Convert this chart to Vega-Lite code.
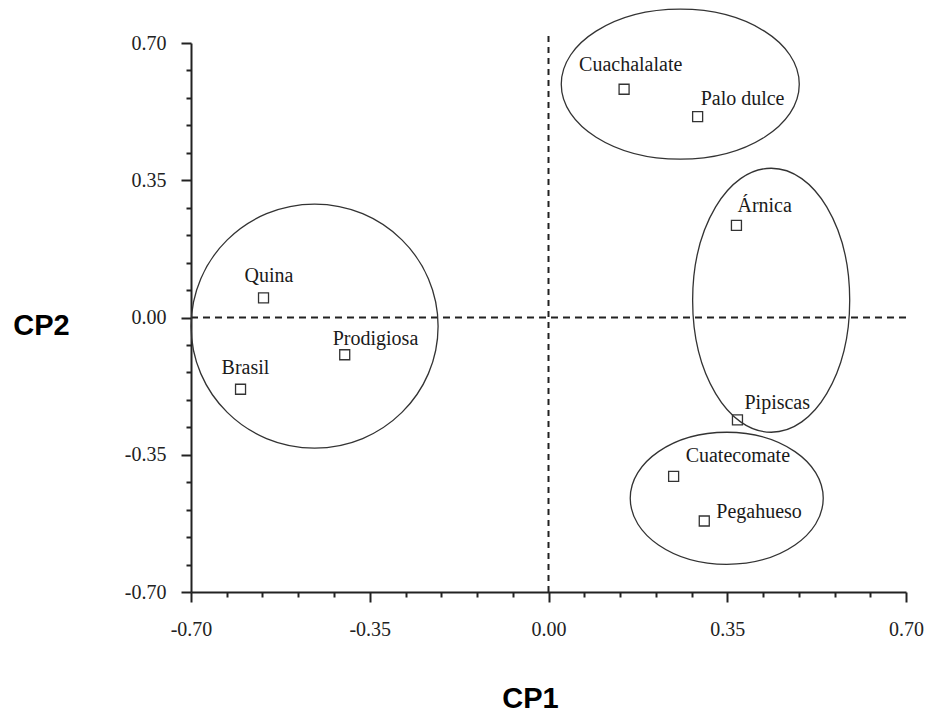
{
  "$schema": "https://vega.github.io/schema/vega-lite/v6.json",
  "width": 715,
  "height": 549,
  "autosize": {"type": "none"},
  "padding": {"left": 191, "top": 43, "right": 23, "bottom": 121},
  "background": "#ffffff",
  "config": {
    "view": {"stroke": null},
    "axis": {"labelOverlap": false, "labelFlush": false, "labelBound": false}
  },
  "datasets": {
    "species": [
      {"name": "Cuachalalate", "cp1": 0.148, "cp2": 0.582},
      {"name": "Palo dulce", "cp1": 0.292, "cp2": 0.512},
      {"name": "Árnica", "cp1": 0.368, "cp2": 0.235},
      {"name": "Pipiscas", "cp1": 0.370, "cp2": -0.261},
      {"name": "Cuatecomate", "cp1": 0.245, "cp2": -0.405},
      {"name": "Pegahueso", "cp1": 0.305, "cp2": -0.519},
      {"name": "Quina", "cp1": -0.558, "cp2": 0.050},
      {"name": "Prodigiosa", "cp1": -0.399, "cp2": -0.095},
      {"name": "Brasil", "cp1": -0.603, "cp2": -0.183}
    ],
    "groups": [
      {"group": "izquierda", "cp1": -0.458, "cp2": -0.022},
      {"group": "superior", "cp1": 0.258, "cp2": 0.595},
      {"group": "derecha", "cp1": 0.436, "cp2": 0.044},
      {"group": "inferior", "cp1": 0.349, "cp2": -0.461}
    ],
    "origin": [{"cp1": 0, "cp2": 0}]
  },
  "layer": [
    {
      "data": {"name": "origin"},
      "mark": {"type": "rule", "strokeDash": [7, 5], "strokeWidth": 2, "color": "#222222"},
      "encoding": {
        "x": {"datum": -0.7, "type": "quantitative"},
        "x2": {"datum": 0.7},
        "y": {"field": "cp2", "type": "quantitative"}
      }
    },
    {
      "data": {"name": "origin"},
      "mark": {"type": "rule", "strokeDash": [6, 5], "strokeWidth": 2, "color": "#222222"},
      "encoding": {
        "x": {"field": "cp1", "type": "quantitative"},
        "y": {"datum": -0.7, "type": "quantitative"},
        "y2": {"datum": 0.73}
      }
    },
    {
      "data": {"name": "species"},
      "mark": {"type": "point", "shape": "square", "size": 100, "filled": true, "fill": "#ffffff", "stroke": "#333333", "strokeWidth": 1.3, "opacity": 1},
      "encoding": {
        "x": {
          "field": "cp1",
          "type": "quantitative",
          "scale": {"domain": [-0.7, 0.7], "nice": false, "zero": false},
          "axis": {
            "values": [-0.7, -0.63, -0.56, -0.49, -0.42, -0.35, -0.28, -0.21, -0.14, -0.07, 0, 0.07, 0.14, 0.21, 0.28, 0.35, 0.42, 0.49, 0.56, 0.63, 0.7],
            "tickCount": 30,
            "labelExpr": "(abs(datum.value) < 0.01 || abs(abs(datum.value) - 0.35) < 0.01 || abs(abs(datum.value) - 0.7) < 0.01) ? (datum.value < -0.001 ? '-' : '') + format(abs(datum.value), '.2f') : ''",
            "tickSize": {"condition": {"test": "abs(datum.value) < 0.01 || abs(abs(datum.value) - 0.35) < 0.01 || abs(abs(datum.value) - 0.7) < 0.01", "value": 10}, "value": 5},
            "grid": false,
            "domainColor": "#222222",
            "domainWidth": 2,
            "tickColor": "#222222",
            "tickWidth": 2,
            "labelFont": "Liberation Serif",
            "labelFontSize": 20,
            "labelColor": "#222222",
            "labelPadding": 17,
            "labelFlush": false,
            "labelOverlap": false,
            "labelBound": false,
            "title": "CP1",
            "titleFont": "Liberation Sans",
            "titleFontSize": 29,
            "titleFontWeight": "bold",
            "titleColor": "#000000",
            "titleX": 339,
            "titleY": 106,
            "titleAlign": "center",
            "titleBaseline": "middle"
          }
        },
        "y": {
          "field": "cp2",
          "type": "quantitative",
          "scale": {"domain": [-0.7, 0.7], "nice": false, "zero": false},
          "axis": {
            "values": [-0.7, -0.63, -0.56, -0.49, -0.42, -0.35, -0.28, -0.21, -0.14, -0.07, 0, 0.07, 0.14, 0.21, 0.28, 0.35, 0.42, 0.49, 0.56, 0.63, 0.7],
            "tickCount": 30,
            "labelExpr": "(abs(datum.value) < 0.01 || abs(abs(datum.value) - 0.35) < 0.01 || abs(abs(datum.value) - 0.7) < 0.01) ? (datum.value < -0.001 ? '-' : '') + format(abs(datum.value), '.2f') : ''",
            "tickSize": {"condition": {"test": "abs(datum.value) < 0.01 || abs(abs(datum.value) - 0.35) < 0.01 || abs(abs(datum.value) - 0.7) < 0.01", "value": 10}, "value": 5},
            "grid": false,
            "domainColor": "#222222",
            "domainWidth": 2,
            "tickColor": "#222222",
            "tickWidth": 2,
            "labelFont": "Liberation Serif",
            "labelFontSize": 20,
            "labelColor": "#222222",
            "labelPadding": 15,
            "labelFlush": false,
            "labelOverlap": false,
            "labelBound": false,
            "title": "CP2",
            "titleAngle": 0,
            "titleFont": "Liberation Sans",
            "titleFontSize": 29,
            "titleFontWeight": "bold",
            "titleColor": "#000000",
            "titleX": -150,
            "titleY": 282,
            "titleAlign": "center",
            "titleBaseline": "middle"
          }
        }
      }
    },
    {
      "data": {"name": "species"},
      "transform": [{"filter": "datum.name === 'Cuachalalate'"}],
      "mark": {"type": "text", "align": "left", "baseline": "alphabetic", "dx": -45, "dy": -18, "font": "Liberation Serif", "fontSize": 20, "color": "#1a1a1a"},
      "encoding": {"x": {"field": "cp1", "type": "quantitative"}, "y": {"field": "cp2", "type": "quantitative"}, "text": {"field": "name"}}
    },
    {
      "data": {"name": "species"},
      "transform": [{"filter": "datum.name === 'Palo dulce'"}],
      "mark": {"type": "text", "align": "left", "baseline": "alphabetic", "dx": 3, "dy": -12, "font": "Liberation Serif", "fontSize": 20, "color": "#1a1a1a"},
      "encoding": {"x": {"field": "cp1", "type": "quantitative"}, "y": {"field": "cp2", "type": "quantitative"}, "text": {"field": "name"}}
    },
    {
      "data": {"name": "species"},
      "transform": [{"filter": "datum.name === 'Árnica'"}],
      "mark": {"type": "text", "align": "left", "baseline": "alphabetic", "dx": 1, "dy": -13, "font": "Liberation Serif", "fontSize": 20, "color": "#1a1a1a"},
      "encoding": {"x": {"field": "cp1", "type": "quantitative"}, "y": {"field": "cp2", "type": "quantitative"}, "text": {"field": "name"}}
    },
    {
      "data": {"name": "species"},
      "transform": [{"filter": "datum.name === 'Pipiscas'"}],
      "mark": {"type": "text", "align": "left", "baseline": "alphabetic", "dx": 7, "dy": -11, "font": "Liberation Serif", "fontSize": 20, "color": "#1a1a1a"},
      "encoding": {"x": {"field": "cp1", "type": "quantitative"}, "y": {"field": "cp2", "type": "quantitative"}, "text": {"field": "name"}}
    },
    {
      "data": {"name": "species"},
      "transform": [{"filter": "datum.name === 'Cuatecomate'"}],
      "mark": {"type": "text", "align": "left", "baseline": "alphabetic", "dx": 12, "dy": -14, "font": "Liberation Serif", "fontSize": 20, "color": "#1a1a1a"},
      "encoding": {"x": {"field": "cp1", "type": "quantitative"}, "y": {"field": "cp2", "type": "quantitative"}, "text": {"field": "name"}}
    },
    {
      "data": {"name": "species"},
      "transform": [{"filter": "datum.name === 'Pegahueso'"}],
      "mark": {"type": "text", "align": "left", "baseline": "alphabetic", "dx": 12, "dy": -3, "font": "Liberation Serif", "fontSize": 20, "color": "#1a1a1a"},
      "encoding": {"x": {"field": "cp1", "type": "quantitative"}, "y": {"field": "cp2", "type": "quantitative"}, "text": {"field": "name"}}
    },
    {
      "data": {"name": "species"},
      "transform": [{"filter": "datum.name === 'Quina'"}],
      "mark": {"type": "text", "align": "left", "baseline": "alphabetic", "dx": -19, "dy": -16, "font": "Liberation Serif", "fontSize": 20, "color": "#1a1a1a"},
      "encoding": {"x": {"field": "cp1", "type": "quantitative"}, "y": {"field": "cp2", "type": "quantitative"}, "text": {"field": "name"}}
    },
    {
      "data": {"name": "species"},
      "transform": [{"filter": "datum.name === 'Prodigiosa'"}],
      "mark": {"type": "text", "align": "left", "baseline": "alphabetic", "dx": -12, "dy": -10, "font": "Liberation Serif", "fontSize": 20, "color": "#1a1a1a"},
      "encoding": {"x": {"field": "cp1", "type": "quantitative"}, "y": {"field": "cp2", "type": "quantitative"}, "text": {"field": "name"}}
    },
    {
      "data": {"name": "species"},
      "transform": [{"filter": "datum.name === 'Brasil'"}],
      "mark": {"type": "text", "align": "left", "baseline": "alphabetic", "dx": -19, "dy": -15, "font": "Liberation Serif", "fontSize": 20, "color": "#1a1a1a"},
      "encoding": {"x": {"field": "cp1", "type": "quantitative"}, "y": {"field": "cp2", "type": "quantitative"}, "text": {"field": "name"}}
    },
    {
      "data": {"name": "groups"},
      "transform": [{"filter": "datum.group === 'izquierda'"}],
      "mark": {"type": "point", "shape": "M -1 0 A 1 0.988 0 1 0 1 0 A 1 0.988 0 1 0 -1 0 Z", "size": 61009, "filled": false, "stroke": "#333333", "strokeWidth": 1.3, "opacity": 1},
      "encoding": {"x": {"field": "cp1", "type": "quantitative"}, "y": {"field": "cp2", "type": "quantitative"}}
    },
    {
      "data": {"name": "groups"},
      "transform": [{"filter": "datum.group === 'superior'"}],
      "mark": {"type": "point", "shape": "M -1 0 A 1 0.63 0 1 0 1 0 A 1 0.63 0 1 0 -1 0 Z", "size": 56644, "filled": false, "stroke": "#333333", "strokeWidth": 1.3, "opacity": 1},
      "encoding": {"x": {"field": "cp1", "type": "quantitative"}, "y": {"field": "cp2", "type": "quantitative"}}
    },
    {
      "data": {"name": "groups"},
      "transform": [{"filter": "datum.group === 'derecha'"}],
      "mark": {"type": "point", "shape": "M -0.595 0 A 0.595 1 0 1 0 0.595 0 A 0.595 1 0 1 0 -0.595 0 Z", "size": 69696, "filled": false, "stroke": "#333333", "strokeWidth": 1.3, "opacity": 1},
      "encoding": {"x": {"field": "cp1", "type": "quantitative"}, "y": {"field": "cp2", "type": "quantitative"}}
    },
    {
      "data": {"name": "groups"},
      "transform": [{"filter": "datum.group === 'inferior'"}],
      "mark": {"type": "point", "shape": "M -1 0 A 1 0.684 0 1 0 1 0 A 1 0.684 0 1 0 -1 0 Z", "size": 37249, "filled": false, "stroke": "#333333", "strokeWidth": 1.3, "opacity": 1},
      "encoding": {"x": {"field": "cp1", "type": "quantitative"}, "y": {"field": "cp2", "type": "quantitative"}}
    }
  ]
}
